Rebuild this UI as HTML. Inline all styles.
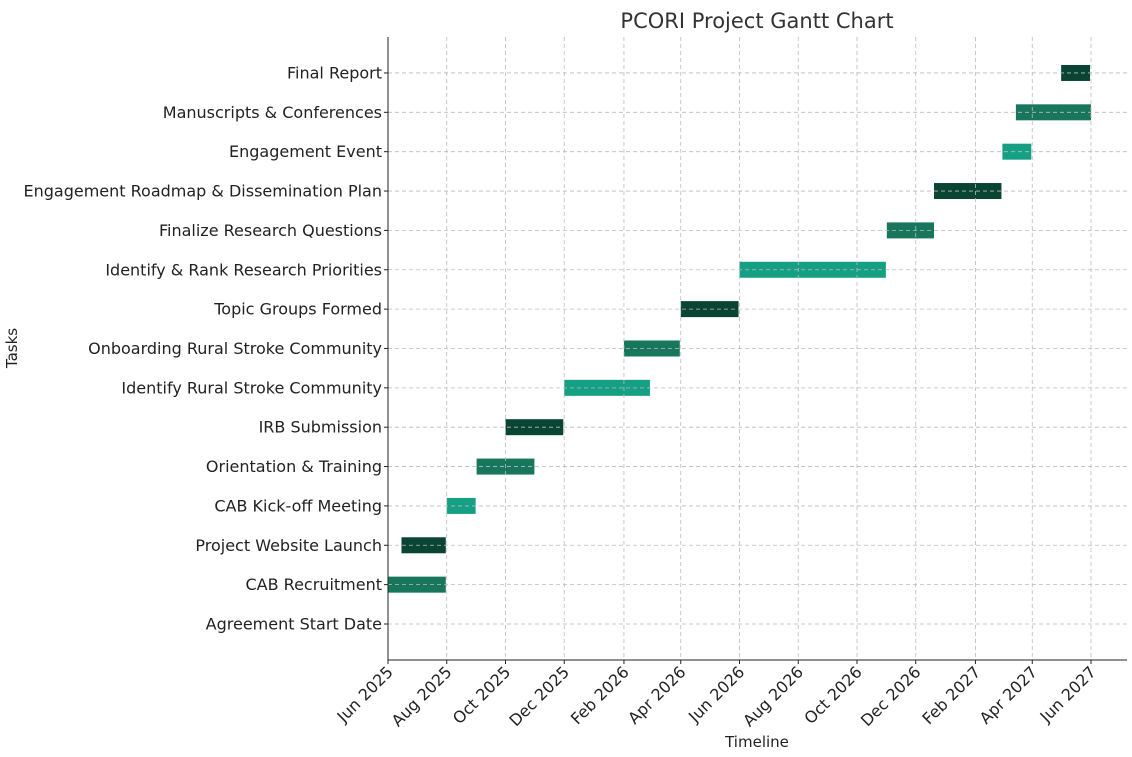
<!DOCTYPE html>
<html><head><meta charset="utf-8"><style>body{margin:0;background:#fff}svg{font-family:"DejaVu Sans","Liberation Sans",sans-serif}</style></head>
<body>
<svg id="c" width="1132" height="752"></svg>
<script>
const tasks=["Agreement Start Date","CAB Recruitment","Project Website Launch","CAB Kick-off Meeting","Orientation & Training","IRB Submission","Identify Rural Stroke Community","Onboarding Rural Stroke Community","Topic Groups Formed","Identify & Rank Research Priorities","Finalize Research Questions","Engagement Roadmap & Dissemination Plan","Engagement Event","Manuscripts & Conferences","Final Report"];
const starts=["2025-06-01","2025-06-01","2025-06-15","2025-08-01","2025-09-01","2025-10-01","2025-12-01","2026-02-01","2026-04-01","2026-06-01","2026-11-01","2026-12-20","2027-03-01","2027-03-15","2027-05-01"];
const ends=["2025-06-01","2025-07-31","2025-07-31","2025-08-31","2025-10-31","2025-11-30","2026-02-28","2026-03-31","2026-05-31","2026-10-31","2026-12-20","2027-02-28","2027-03-31","2027-06-01","2027-05-31"];
const tickLabels=["Jun 2025","Aug 2025","Oct 2025","Dec 2025","Feb 2026","Apr 2026","Jun 2026","Aug 2026","Oct 2026","Dec 2026","Feb 2027","Apr 2027","Jun 2027"];
const tickDates=["2025-06-01","2025-08-01","2025-10-01","2025-12-01","2026-02-01","2026-04-01","2026-06-01","2026-08-01","2026-10-01","2026-12-01","2027-02-01","2027-04-01","2027-06-01"];
const colors=["#16a083","#17765c","#0a4433"];
const NS="http://www.w3.org/2000/svg",svg=document.getElementById('c');
const d0=Date.parse("2025-06-01"),d1=Date.parse("2027-06-01");
const X=d=>388+(Date.parse(d)-d0)/(d1-d0)*703;
const Y=i=>624-i*39.36;
function el(t,a,txt){const e=document.createElementNS(NS,t);for(const k in a)e.setAttribute(k,a[k]);if(txt!=null)e.textContent=txt;svg.appendChild(e);return e;}
tasks.forEach((t,i)=>{const x=X(starts[i]),w=Math.max(0,X(ends[i])-x);
const r=el('rect',{x:x,y:Y(i)-8,width:w,height:16,fill:colors[i%3]});


const l=el('text',{x:382,y:Y(i)+5.5,'text-anchor':'end','font-size':16,fill:'#222'},t);


el('line',{x1:384,x2:388,y1:Y(i),y2:Y(i),stroke:'#222'});
el('line',{x1:388,x2:1127,y1:Y(i),y2:Y(i),stroke:'#bbb','stroke-dasharray':'4,3','stroke-width':0.8});});
tickDates.forEach((d,i)=>{const x=X(d);
el('line',{x1:x,x2:x,y1:37,y2:660,stroke:'#bbb','stroke-dasharray':'4,3','stroke-width':0.8});
el('line',{x1:x,x2:x,y1:660,y2:664,stroke:'#222'});
const t=el('text',{x:x+6,y:673,'text-anchor':'end','font-size':16,fill:'#222',transform:`rotate(-45 ${x+6} 673)`},tickLabels[i]);

});
el('line',{x1:388,x2:388,y1:37,y2:660,stroke:'#222'});
el('line',{x1:388,x2:1127,y1:660,y2:660,stroke:'#222'});
const ti=el('text',{x:757,y:28,'text-anchor':'middle','font-size':21,fill:'#333'},'PCORI Project Gantt Chart');


const xt=el('text',{x:757,y:747,'text-anchor':'middle','font-size':15,fill:'#222'},'Timeline');


const yt=el('text',{x:17,y:348,'text-anchor':'middle','font-size':15,fill:'#222',transform:'rotate(-90 17 348)'},'Tasks');


</script>
</body></html>
